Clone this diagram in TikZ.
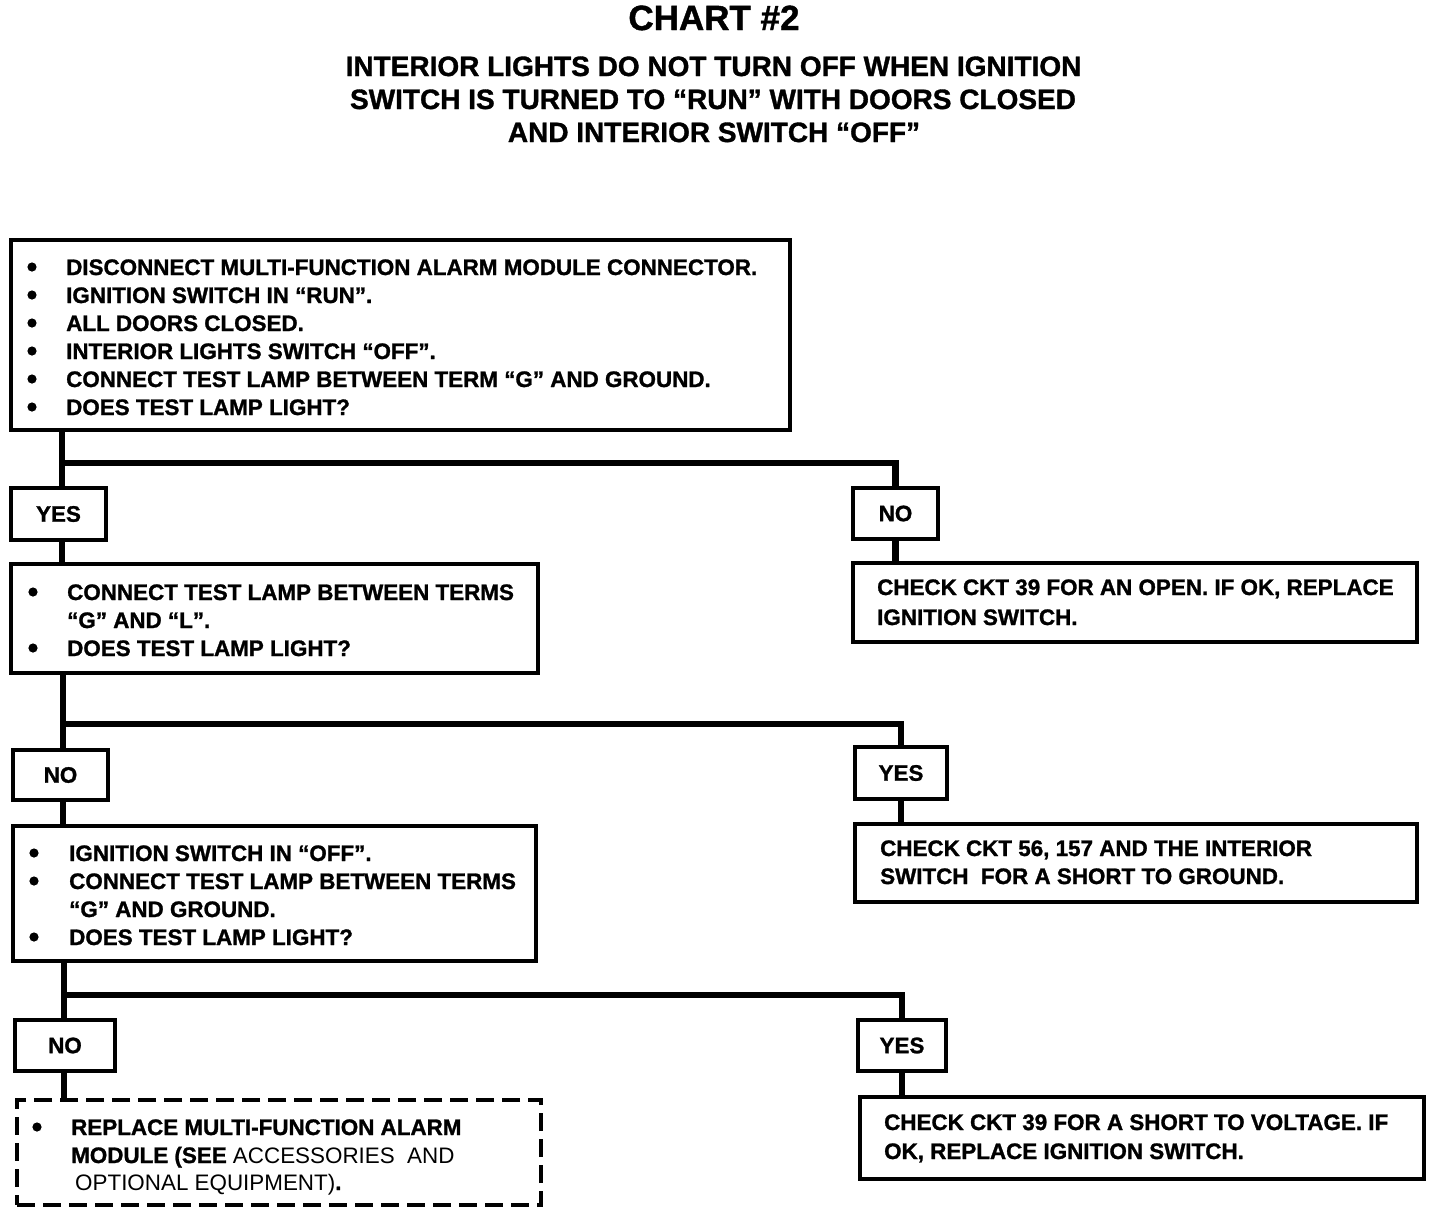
\documentclass[tikz,border=0pt]{standalone}
\usepackage{fontspec}
\setmainfont{Liberation Sans}[BoldFeatures={FakeBold=1.2}]
\usetikzlibrary{fit}
\begin{document}
\begin{tikzpicture}[x=1pt,y=-1pt,
  box/.style={draw, line width=3.2pt, inner sep=0pt},
  dbox/.style={box, dash pattern=on 18pt off 8pt},
  conn/.style={line width=6.5pt},
  lbl/.style={anchor=center, inner sep=0pt, font=\bfseries\fontsize{22.4}{26}\selectfont},
  txt/.style={anchor=base west, inner sep=0pt, font=\bfseries\fontsize{22.4}{26}\selectfont},
  rtxt/.style={anchor=base west, inner sep=0pt, font=\fontsize{22.4}{26}\selectfont},
  bul/.style={fill=black},
  ttl/.style={anchor=base, inner sep=0pt, font=\bfseries\fontsize{35}{40}\selectfont},
  sub/.style={anchor=base, inner sep=0pt, font=\bfseries\fontsize{28}{32}\selectfont}]
\useasboundingbox (0,0) rectangle (1440,1216);

% titles
\node[ttl] (title) at (714,30) {CHART \#2};
\node[sub] (s1) at (713.5,76) {INTERIOR LIGHTS DO NOT TURN OFF WHEN IGNITION};
\node[sub] (s2) at (713,109) {SWITCH IS TURNED TO “RUN” WITH DOORS CLOSED};
\node[sub] (s3) at (714,142) {AND INTERIOR SWITCH “OFF”};

% boxes
\node[box, fit={(11,240) (790,430)}] (b1) {};
\node[box, fit={(11,488) (106,540)}] (y1) {};
\node[box, fit={(853,488) (938,539)}] (n1) {};
\node[box, fit={(11,564) (538,673)}] (b2) {};
\node[box, fit={(853,563) (1417,642)}] (r1) {};
\node[box, fit={(13,750) (108,800)}] (n2) {};
\node[box, fit={(855,747) (947,799)}] (y2) {};
\node[box, fit={(13,826) (536,961)}] (b3) {};
\node[box, fit={(855,824) (1417,902)}] (r2) {};
\node[box, fit={(15,1020) (115,1071)}] (n3) {};
\node[box, fit={(858,1020) (946,1071)}] (y3) {};
\node[dbox, fit={(17,1100) (541,1205)}] (b4) {};
\node[box, fit={(860,1097) (1424,1179)}] (r3) {};

% answer labels
\node[lbl] (ly1) at (y1.center) {YES};
\node[lbl] (ln1) at (n1.center) {NO};
\node[lbl] (ln2) at (n2.center) {NO};
\node[lbl] (ly2) at (y2.center) {YES};
\node[lbl] (ln3) at (n3.center) {NO};
\node[lbl] (ly3) at (y3.center) {YES};

% connectors
\coordinate (j1) at (62,463);
\coordinate (j2) at (63,724);
\coordinate (j3) at (64,995);
\draw[conn] (b1.south -| j1) -- (y1.north -| j1);
\draw[conn] (j1) -- (j1 -| n1.north) -- (n1.north);
\draw[conn] (y1.south -| j1) -- (b2.north -| j1);
\draw[conn] (n1.south) -- (r1.north -| n1.south);
\draw[conn] (b2.south -| j2) -- (n2.north -| j2);
\draw[conn] (j2) -- (j2 -| y2.north) -- (y2.north);
\draw[conn] (n2.south -| j2) -- (b3.north -| j2);
\draw[conn] (y2.south) -- (r2.north -| y2.south);
\draw[conn] (b3.south -| j3) -- (n3.north -| j3);
\draw[conn] (j3) -- (j3 -| y3.north) -- (y3.north);
\draw[conn] (n3.south -| j3) -- (b4.north -| j3);
\draw[conn] (y3.south) -- (r3.north -| y3.south);

% box 1 text
\foreach \yy in {267,295,323,351,379,407} \fill[bul] (32,\yy) circle (4.6pt);
\node[txt] (t1a) at (66,275) {DISCONNECT MULTI-FUNCTION ALARM MODULE CONNECTOR.};
\node[txt] (t1b) at (66,303) {IGNITION SWITCH IN “RUN”.};
\node[txt] (t1c) at (66,331) {ALL DOORS CLOSED.};
\node[txt] (t1d) at (66,359) {INTERIOR LIGHTS SWITCH “OFF”.};
\node[txt] (t1e) at (66,387) {CONNECT TEST LAMP BETWEEN TERM “G” AND GROUND.};
\node[txt] (t1f) at (66,415) {DOES TEST LAMP LIGHT?};

% box 2 text
\foreach \yy in {592,648} \fill[bul] (33,\yy) circle (4.6pt);
\node[txt] (t2a) at (67,600) {CONNECT TEST LAMP BETWEEN TERMS};
\node[txt] (t2b) at (67,628) {“G” AND “L”.};
\node[txt] (t2c) at (67,656) {DOES TEST LAMP LIGHT?};

% right box 1
\node[txt] (r1a) at (877,595) {CHECK CKT 39 FOR AN OPEN. IF OK, REPLACE};
\node[txt] (r1b) at (877,625) {IGNITION SWITCH.};

% box 3 text
\foreach \yy in {853,881,937} \fill[bul] (34,\yy) circle (4.6pt);
\node[txt] (t3a) at (69,861) {IGNITION SWITCH IN “OFF”.};
\node[txt] (t3b) at (69,889) {CONNECT TEST LAMP BETWEEN TERMS};
\node[txt] (t3c) at (69,917) {“G” AND GROUND.};
\node[txt] (t3d) at (69,945) {DOES TEST LAMP LIGHT?};

% right box 2
\node[txt] (r2a) at (880,856) {CHECK CKT 56, 157 AND THE INTERIOR};
\node[txt] (r2b) at (880,884) {SWITCH \ FOR A SHORT TO GROUND.};

% box 4 text
\fill[bul] (37,1127) circle (4.6pt);
\node[txt] (t4a) at (71,1135) {REPLACE MULTI-FUNCTION ALARM};
\node[txt] (t4b) at (71,1163) {MODULE (SEE \mdseries ACCESSORIES \ AND};
\node[rtxt] (t4c) at (75,1190) {OPTIONAL EQUIPMENT)\textbf{.}};

% right box 3
\node[txt] (r3a) at (884,1130) {CHECK CKT 39 FOR A SHORT TO VOLTAGE. IF};
\node[txt] (r3b) at (884,1159) {OK, REPLACE IGNITION SWITCH.};
\end{tikzpicture}
\end{document}
